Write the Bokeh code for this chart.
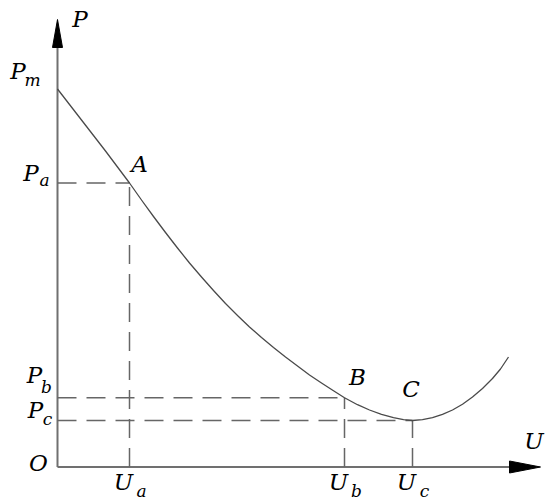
from bokeh.plotting import figure
from bokeh.models import Range1d
from bokeh.core.properties import value
from bokeh.embed import file_html
from bokeh.resources import INLINE

# ---- data (schematic units) ----
u_curve = [0, 12, 24, 36, 48, 60, 72, 84, 96, 108, 120, 132, 144, 156, 168, 180,
           192, 204, 216, 228, 240, 252, 264, 276, 287, 300, 312, 324, 336, 346,
           355, 365, 375, 385, 395, 405, 415, 425, 435, 443, 451]
p_curve = [378, 362.5, 347, 331.5, 316, 300, 284, 267, 250.5, 234.5, 219, 204, 190,
           176.5, 163.5, 151.5, 140, 129.5, 119.5, 110, 101, 92, 84, 76.3, 69.2,
           62.3, 57, 52.7, 49.4, 47.4, 46.5, 47.3, 49.3, 52.6, 57, 62.8, 70, 78.5,
           88.5, 98, 110]

point_names = ["A", "B", "C"]
point_subs = ["a", "b", "c"]
point_u = [72, 287, 355]
point_p = [284, 69.2, 46.5]
p_max = 378

u_axis_end = 483
p_axis_end = 447.5

FONT = value("DejaVu Serif")
AX = "#707070"
CURVE = "#4a4a4a"
DASH = "#666666"

p = figure(width=550, height=501, output_backend="svg", toolbar_location=None,
           x_range=Range1d(-57, 493), y_range=Range1d(-34.5, 466.5),
           min_border=0, min_border_left=0, min_border_right=0,
           min_border_top=0, min_border_bottom=0)
p.axis.visible = False
p.grid.visible = False
p.outline_line_color = None
p.background_fill_color = "white"
p.border_fill_color = "white"

# axes
x_head_len, x_head_half = 31, 6
y_head_len, y_head_half = 28, 5
p.line([0, u_axis_end - x_head_len + 2], [0, 0], line_color=AX, line_width=2)
p.line([0, 0], [0, p_axis_end - y_head_len + 2], line_color=AX, line_width=2)
p.patch([u_axis_end - x_head_len, u_axis_end, u_axis_end - x_head_len],
        [x_head_half, 0, -x_head_half], color="black")
p.patch([-y_head_half, 0, y_head_half],
        [p_axis_end - y_head_len, p_axis_end, p_axis_end - y_head_len], color="black")

# dashed guides
for u, pv in zip(point_u, point_p):
    p.line([0, u], [pv, pv], line_color=DASH, line_width=1.5, line_dash="19 10")
    p.line([u, u], [0, pv], line_color=DASH, line_width=1.5, line_dash="19 10")

# curve
p.line(u_curve, p_curve, line_color=CURVE, line_width=1.3, line_join="round")

def label(x, y, txt, dx, dy, size):
    p.text([x], [y], text=[txt], x_offset=dx, y_offset=dy, text_font=FONT,
           text_font_style="italic", text_font_size=size, text_color="black",
           text_align="center", text_baseline="middle")

MAIN = "23px"
SUB = "17px"

# axis labels
label(0, p_axis_end, "P", 22.5, -1, MAIN)
label(u_axis_end, 0, "U", -6.5, -26.5, MAIN)
label(0, 0, "O", -19, -4, MAIN)
label(0, p_max, "P", -39.5, -18, MAIN)
label(0, p_max, "m", -25, -9.5, SUB)

# point labels
pt_off = [(10, -19), (13, -21), (-1.5, -31.5)]
p_lab_off = [((-26.5, -10), (-13, -3)), ((-23, -23), (-11, -11)), ((-22, -10.5), (-10, -2))]
for name, s, u, pv, po, plo in zip(point_names, point_subs, point_u, point_p, pt_off, p_lab_off):
    label(u, pv, name, po[0], po[1], MAIN)
    label(0, pv, "P", plo[0][0], plo[0][1], MAIN)
    label(0, pv, s, plo[1][0], plo[1][1], SUB)
    label(u, 0, "U", -6, 15, MAIN)
    label(u, 0, s, 12, 23.5, SUB)

open("out.html", "w").write(file_html(p, INLINE))
